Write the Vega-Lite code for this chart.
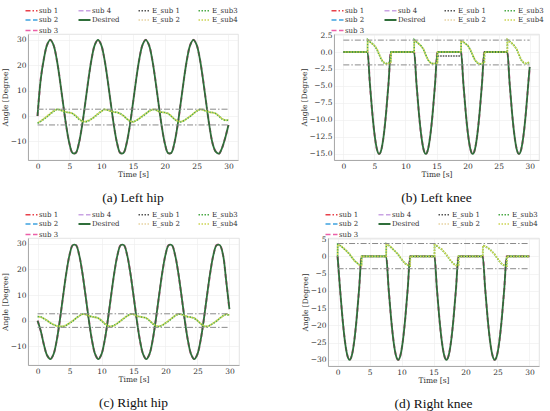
{
  "$schema": "https://vega.github.io/schema/vega-lite/v6.json",
  "background": "white",
  "padding": {"left": 0, "top": 6, "right": 2, "bottom": 0},
  "config": {
    "view": {"stroke": "#dcdcdc", "strokeWidth": 0.8},
    "axis": {
      "labelFont": "DejaVu Serif", "titleFont": "DejaVu Serif",
      "labelFontSize": 7.5, "titleFontSize": 7.5, "titleFontWeight": "normal",
      "labelColor": "#333", "titleColor": "#333",
      "gridColor": "#ececec", "gridWidth": 0.6,
      "domainColor": "#999", "domainWidth": 0.8,
      "ticks": false, "labelPadding": 2, "titlePadding": 1, "labelOverlap": false
    },
    "legend": {
      "orient": "top", "columns": 4, "gridAlign": "each", "symbolType": "stroke", "symbolSize": 144,
      "columnPadding": 15, "rowPadding": 1.5, "labelOffset": 4, "offset": 0, "padding": 0,
      "labelFont": "DejaVu Serif", "labelFontSize": 7, "labelColor": "#333", "symbolStrokeWidth": 1.4
    },
    "title": {"font": "Liberation Serif", "fontSize": 13.5, "fontWeight": "normal", "color": "#111", "orient": "bottom", "anchor": "middle", "offset": 13}
  },
  "spacing": 5,
  "vconcat": [
    {
      "spacing": 60,
      "hconcat": [
        {
          "width": 210, "height": 126,
          "title": {"text": "(a) Left hip"},
          "data": {"values": [
            {"t": 0, "Desired": 0, "E_sub3": -2.8, "E_sub4": -2.6},
            {"t": 0.5, "Desired": 14.45, "E_sub3": -2.1, "E_sub4": -2.0},
            {"t": 1, "Desired": 22.56, "E_sub3": -1.2, "E_sub4": -1.0},
            {"t": 1.5, "Desired": 28.05, "E_sub3": -0.2, "E_sub4": 0.0},
            {"t": 2, "Desired": 30, "E_sub3": 0.8, "E_sub4": 1.0},
            {"t": 2.5, "Desired": 28.05, "E_sub3": 1.8, "E_sub4": 2.0},
            {"t": 3, "Desired": 22.56, "E_sub3": 2.6, "E_sub4": 2.7},
            {"t": 3.5, "Desired": 14.45, "E_sub3": 2.5, "E_sub4": 2.4},
            {"t": 4, "Desired": 5.15, "E_sub3": 1.9, "E_sub4": 2.0},
            {"t": 4.5, "Desired": -3.75, "E_sub3": 1.5, "E_sub4": 1.6},
            {"t": 5, "Desired": -10.7, "E_sub3": 1.4, "E_sub4": 1.3},
            {"t": 5.5, "Desired": -14.51, "E_sub3": 1.0, "E_sub4": 1.1},
            {"t": 6, "Desired": -14.51, "E_sub3": 0.0, "E_sub4": 0.2},
            {"t": 6.5, "Desired": -10.7, "E_sub3": -1.2, "E_sub4": -1.0},
            {"t": 7, "Desired": -3.75, "E_sub3": -2.1, "E_sub4": -2.0},
            {"t": 7.5, "Desired": 5.15, "E_sub3": -2.3, "E_sub4": -2.2},
            {"t": 8, "Desired": 14.45, "E_sub3": -1.9, "E_sub4": -1.7},
            {"t": 8.5, "Desired": 22.56, "E_sub3": -1.1, "E_sub4": -1.2},
            {"t": 9, "Desired": 28.05, "E_sub3": -0.3, "E_sub4": -0.1},
            {"t": 9.5, "Desired": 30, "E_sub3": 0.8, "E_sub4": 1.0},
            {"t": 10, "Desired": 28.05, "E_sub3": 1.9, "E_sub4": 1.8},
            {"t": 10.5, "Desired": 22.56, "E_sub3": 2.6, "E_sub4": 2.7},
            {"t": 11, "Desired": 14.45, "E_sub3": 2.4, "E_sub4": 2.3},
            {"t": 11.5, "Desired": 5.15, "E_sub3": 1.9, "E_sub4": 2.0},
            {"t": 12, "Desired": -3.75, "E_sub3": 1.6, "E_sub4": 1.5},
            {"t": 12.5, "Desired": -10.7, "E_sub3": 1.4, "E_sub4": 1.5},
            {"t": 13, "Desired": -14.51, "E_sub3": 1.0, "E_sub4": 0.9},
            {"t": 13.5, "Desired": -14.51, "E_sub3": 0.1, "E_sub4": 0.2},
            {"t": 14, "Desired": -10.7, "E_sub3": -1.1, "E_sub4": -1.0},
            {"t": 14.5, "Desired": -3.75, "E_sub3": -2.0, "E_sub4": -1.9},
            {"t": 15, "Desired": 5.15, "E_sub3": -2.3, "E_sub4": -2.4},
            {"t": 15.5, "Desired": 14.45, "E_sub3": -1.8, "E_sub4": -1.7},
            {"t": 16, "Desired": 22.56, "E_sub3": -1.0, "E_sub4": -0.9},
            {"t": 16.5, "Desired": 28.05, "E_sub3": -0.1, "E_sub4": 0.1},
            {"t": 17, "Desired": 30, "E_sub3": 0.9, "E_sub4": 1.0},
            {"t": 17.5, "Desired": 28.05, "E_sub3": 1.9, "E_sub4": 1.8},
            {"t": 18, "Desired": 22.56, "E_sub3": 2.6, "E_sub4": 2.5},
            {"t": 18.5, "Desired": 14.45, "E_sub3": 2.5, "E_sub4": 2.6},
            {"t": 19, "Desired": 5.15, "E_sub3": 1.9, "E_sub4": 1.8},
            {"t": 19.5, "Desired": -3.75, "E_sub3": 1.5, "E_sub4": 1.6},
            {"t": 20, "Desired": -10.7, "E_sub3": 1.4, "E_sub4": 1.3},
            {"t": 20.5, "Desired": -14.51, "E_sub3": 1.0, "E_sub4": 1.1},
            {"t": 21, "Desired": -14.51, "E_sub3": 0.0, "E_sub4": 0.1},
            {"t": 21.5, "Desired": -10.7, "E_sub3": -1.2, "E_sub4": -1.1},
            {"t": 22, "Desired": -3.75, "E_sub3": -2.1, "E_sub4": -2.0},
            {"t": 22.5, "Desired": 5.15, "E_sub3": -2.3, "E_sub4": -2.2},
            {"t": 23, "Desired": 14.45, "E_sub3": -1.8, "E_sub4": -1.9},
            {"t": 23.5, "Desired": 22.56, "E_sub3": -1.0, "E_sub4": -0.9},
            {"t": 24, "Desired": 28.05, "E_sub3": -0.1, "E_sub4": 0.0},
            {"t": 24.5, "Desired": 30, "E_sub3": 0.9, "E_sub4": 1.0},
            {"t": 25, "Desired": 28.05, "E_sub3": 1.9, "E_sub4": 2.0},
            {"t": 25.5, "Desired": 22.56, "E_sub3": 2.6, "E_sub4": 2.7},
            {"t": 26, "Desired": 14.45, "E_sub3": 2.5, "E_sub4": 2.4},
            {"t": 26.5, "Desired": 5.15, "E_sub3": 1.9, "E_sub4": 2.0},
            {"t": 27, "Desired": -3.75, "E_sub3": 1.5, "E_sub4": 1.6},
            {"t": 27.5, "Desired": -10.7, "E_sub3": 1.4, "E_sub4": 1.3},
            {"t": 28, "Desired": -14.0, "E_sub3": 1.0, "E_sub4": 1.1},
            {"t": 28.5, "Desired": -14.8, "E_sub3": 0.0, "E_sub4": 0.1},
            {"t": 29, "Desired": -12.5, "E_sub3": -1.2, "E_sub4": -1.1},
            {"t": 29.5, "Desired": -8.5, "E_sub3": -1.7, "E_sub4": -1.6},
            {"t": 30, "Desired": -3.5, "E_sub3": -1.6, "E_sub4": -1.5}
          ]},
          "encoding": {"x": {"field": "t", "type": "quantitative", "title": "Time [s]", "scale": {"domain": [-1.5, 31.5], "nice": false, "zero": false}, "axis": {"values": [0, 5, 10, 15, 20, 25, 30]}}},
          "layer": [
            {
              "mark": {"type": "line", "interpolate": "catmull-rom", "strokeWidth": 2.1, "strokeDash": [4, 3]},
              "encoding": {
                "y": {"field": "Desired", "type": "quantitative", "title": "Angle [Degree]", "scale": {"domain": [-17.3, 32.3], "nice": false, "zero": false}, "axis": {"values": [-10, 0, 10, 20, 30]}},
                "color": {
                  "datum": "sub 3",
                  "scale": {"domain": ["sub 1", "sub 4", "E_sub 1", "E_sub3", "sub 2", "Desired", "E_sub 2", "E_sub4", "sub 3"], "range": ["#e8404a", "#c9a3e3", "#555555", "#4caa48", "#3fa3e0", "#2f6e3a", "#e6d3a3", "#ccd452", "#ec5fa8"]},
                  "legend": {"title": null,
                    "encode": {"symbols": {"update": {"strokeDash": {"signal": "datum.value === 'Desired' ? [1, 0] : datum.value === 'sub 1' ? [5, 2, 1.5, 2] : indexof(datum.value, 'E_') === 0 ? [1.5, 1.5] : [5, 2.5]"}, "strokeWidth": {"signal": "datum.value === 'Desired' ? 2 : 1.4"}}}}}
                }
              }
            },
            {
              "mark": {"type": "line", "interpolate": "catmull-rom", "strokeWidth": 1.8},
              "encoding": {"y": {"field": "Desired", "type": "quantitative", "title": "Angle [Degree]", "axis": {"values": [-10, 0, 10, 20, 30]}}, "color": {"datum": "Desired"}}
            },
            {
              "mark": {"type": "line", "strokeWidth": 1.7, "strokeDash": [1.6, 1.2]},
              "encoding": {"y": {"field": "E_sub3", "type": "quantitative", "title": "Angle [Degree]", "axis": {"values": [-10, 0, 10, 20, 30]}}, "color": {"datum": "E_sub3"}}
            },
            {
              "mark": {"type": "line", "strokeWidth": 1.7, "strokeDash": [1.6, 1.2], "strokeDashOffset": 1.4},
              "encoding": {"y": {"field": "E_sub4", "type": "quantitative", "title": "Angle [Degree]", "axis": {"values": [-10, 0, 10, 20, 30]}}, "color": {"datum": "E_sub4"}}
            },
            {
              "data": {"values": [{"b": 2.7, "x0": 0, "x1": 30}, {"b": -3.5, "x0": 0, "x1": 30}]},
              "mark": {"type": "rule", "color": "#8a8a8a", "strokeWidth": 1, "strokeDash": [6, 2, 1.5, 2]},
              "encoding": {"x": {"field": "x0", "type": "quantitative"}, "x2": {"field": "x1"}, "y": {"field": "b", "type": "quantitative", "title": "Angle [Degree]", "axis": {"values": [-10, 0, 10, 20, 30]}}}
            }
          ]
        },
        {
          "width": 205, "height": 126,
          "title": {"text": "(b) Left knee"},
          "data": {"values": [
            {"t": 0, "Desired": 0, "E_sub3": 0, "E_sub4": 0},
            {"t": 3.9, "Desired": 0, "E_sub3": 0, "E_sub4": 0},
            {"t": 3.92, "E_sub3": 1.8, "E_sub4": 1.75},
            {"t": 4.275, "Desired": -4.64, "E_sub3": 1.5, "E_sub4": 1.55},
            {"t": 4.65, "Desired": -8.82, "E_sub3": 1.25, "E_sub4": 1.2},
            {"t": 5.025, "Desired": -12.14, "E_sub3": 0.9, "E_sub4": 0.95},
            {"t": 5.4, "Desired": -14.27, "E_sub3": 0.4, "E_sub4": 0.5},
            {"t": 5.775, "Desired": -15, "E_sub3": -0.4, "E_sub4": -0.3},
            {"t": 6.15, "Desired": -14.27, "E_sub3": -1.2, "E_sub4": -1.1},
            {"t": 6.525, "Desired": -12.14, "E_sub3": -1.6, "E_sub4": -1.5},
            {"t": 6.9, "Desired": -8.82, "E_sub3": -1.7, "E_sub4": -1.75},
            {"t": 7.275, "Desired": -4.64, "E_sub3": -1.6, "E_sub4": -1.7},
            {"t": 7.65, "Desired": 0, "E_sub3": -1.5, "E_sub4": -1.55},
            {"t": 7.67, "E_sub3": 0, "E_sub4": 0},
            {"t": 11.4, "Desired": 0, "E_sub3": 0, "E_sub4": 0},
            {"t": 11.42, "E_sub3": 1.8, "E_sub4": 1.8},
            {"t": 11.775, "Desired": -4.64, "E_sub3": 1.5, "E_sub4": 1.45},
            {"t": 12.15, "Desired": -8.82, "E_sub3": 1.2, "E_sub4": 1.25},
            {"t": 12.525, "Desired": -12.14, "E_sub3": 0.9, "E_sub4": 0.85},
            {"t": 12.9, "Desired": -14.27, "E_sub3": 0.4, "E_sub4": 0.45},
            {"t": 13.275, "Desired": -15, "E_sub3": -0.4, "E_sub4": -0.5},
            {"t": 13.65, "Desired": -14.27, "E_sub3": -1.2, "E_sub4": -1.15},
            {"t": 14.025, "Desired": -12.14, "E_sub3": -1.6, "E_sub4": -1.6},
            {"t": 14.4, "Desired": -8.82, "E_sub3": -1.7, "E_sub4": -1.75},
            {"t": 14.775, "Desired": -4.64, "E_sub3": -1.7, "E_sub4": -1.65},
            {"t": 15.15, "Desired": 0, "E_sub3": -1.6, "E_sub4": -1.6},
            {"t": 15.17, "E_sub3": 0, "E_sub4": 0, "E_sub1": -0.6},
            {"t": 18.95, "Desired": 0, "E_sub3": 0, "E_sub4": 0, "E_sub1": -0.6},
            {"t": 18.97, "E_sub3": 1.6, "E_sub4": 1.55},
            {"t": 19.325, "Desired": -4.64, "E_sub3": 1.45, "E_sub4": 1.5},
            {"t": 19.7, "Desired": -8.82, "E_sub3": 1.2, "E_sub4": 1.15},
            {"t": 20.075, "Desired": -12.14, "E_sub3": 0.9, "E_sub4": 0.95},
            {"t": 20.45, "Desired": -14.27, "E_sub3": 0.3, "E_sub4": 0.35},
            {"t": 20.825, "Desired": -15, "E_sub3": -0.5, "E_sub4": -0.4},
            {"t": 21.2, "Desired": -14.27, "E_sub3": -1.2, "E_sub4": -1.2},
            {"t": 21.575, "Desired": -12.14, "E_sub3": -1.6, "E_sub4": -1.55},
            {"t": 21.95, "Desired": -8.82, "E_sub3": -1.8, "E_sub4": -1.75},
            {"t": 22.325, "Desired": -4.64, "E_sub3": -1.7, "E_sub4": -1.7},
            {"t": 22.7, "Desired": 0, "E_sub3": -1.6, "E_sub4": -1.5},
            {"t": 22.72, "E_sub3": 0, "E_sub4": 0},
            {"t": 26.4, "Desired": 0, "E_sub3": 0, "E_sub4": 0},
            {"t": 26.42, "E_sub3": 1.8, "E_sub4": 1.8},
            {"t": 26.775, "Desired": -4.64, "E_sub3": 1.55, "E_sub4": 1.5},
            {"t": 27.15, "Desired": -8.82, "E_sub3": 1.25, "E_sub4": 1.3},
            {"t": 27.525, "Desired": -12.14, "E_sub3": 0.9, "E_sub4": 0.9},
            {"t": 27.9, "Desired": -14.27, "E_sub3": 0.4, "E_sub4": 0.45},
            {"t": 28.275, "Desired": -15, "E_sub3": -0.4, "E_sub4": -0.35},
            {"t": 28.65, "Desired": -14.27, "E_sub3": -1.2, "E_sub4": -1.15},
            {"t": 29.025, "Desired": -12.14, "E_sub3": -1.6, "E_sub4": -1.55},
            {"t": 29.4, "Desired": -8.82, "E_sub3": -1.7, "E_sub4": -1.7},
            {"t": 29.775, "Desired": -4.64, "E_sub3": -1.6, "E_sub4": -1.55},
            {"t": 30, "Desired": -2.2, "E_sub3": -1.5, "E_sub4": -1.5}
          ]},
          "encoding": {"x": {"field": "t", "type": "quantitative", "title": "Time [s]", "scale": {"domain": [-1.5, 31.5], "nice": false, "zero": false}, "axis": {"values": [0, 5, 10, 15, 20, 25, 30]}}},
          "layer": [
            {
              "transform": [{"filter": "isValid(datum.Desired)"}],
              "mark": {"type": "line", "interpolate": "monotone", "strokeWidth": 2.1, "strokeDash": [4, 3]},
              "encoding": {
                "y": {"field": "Desired", "type": "quantitative", "title": "Angle [Degree]", "scale": {"domain": [-15.9, 2.65], "nice": false, "zero": false}, "axis": {"values": [-15, -12.5, -10, -7.5, -5, -2.5, 0, 2.5], "format": ".1f"}},
                "color": {
                  "datum": "sub 3",
                  "scale": {"domain": ["sub 1", "sub 4", "E_sub 1", "E_sub3", "sub 2", "Desired", "E_sub 2", "E_sub4", "sub 3"], "range": ["#e8404a", "#c9a3e3", "#555555", "#4caa48", "#3fa3e0", "#2f6e3a", "#e6d3a3", "#ccd452", "#ec5fa8"]},
                  "legend": {"title": null,
                    "encode": {"symbols": {"update": {"strokeDash": {"signal": "datum.value === 'Desired' ? [1, 0] : datum.value === 'sub 1' ? [5, 2, 1.5, 2] : indexof(datum.value, 'E_') === 0 ? [1.5, 1.5] : [5, 2.5]"}, "strokeWidth": {"signal": "datum.value === 'Desired' ? 2 : 1.4"}}}}}
                }
              }
            },
            {
              "transform": [{"filter": "isValid(datum.Desired)"}],
              "mark": {"type": "line", "interpolate": "monotone", "strokeWidth": 1.8},
              "encoding": {"y": {"field": "Desired", "type": "quantitative", "title": "Angle [Degree]", "axis": {"values": [-15, -12.5, -10, -7.5, -5, -2.5, 0, 2.5], "format": ".1f"}}, "color": {"datum": "Desired"}}
            },
            {
              "transform": [{"filter": "isValid(datum.E_sub1)"}],
              "mark": {"type": "line", "strokeWidth": 1.5, "strokeDash": [1.6, 1]},
              "encoding": {"y": {"field": "E_sub1", "type": "quantitative", "title": "Angle [Degree]", "axis": {"values": [-15, -12.5, -10, -7.5, -5, -2.5, 0, 2.5], "format": ".1f"}}, "color": {"datum": "E_sub 1"}}
            },
            {
              "mark": {"type": "line", "strokeWidth": 1.7, "strokeDash": [1.6, 1.2]},
              "encoding": {"y": {"field": "E_sub3", "type": "quantitative", "title": "Angle [Degree]", "axis": {"values": [-15, -12.5, -10, -7.5, -5, -2.5, 0, 2.5], "format": ".1f"}}, "color": {"datum": "E_sub3"}}
            },
            {
              "mark": {"type": "line", "strokeWidth": 1.7, "strokeDash": [1.6, 1.2], "strokeDashOffset": 1.4},
              "encoding": {"y": {"field": "E_sub4", "type": "quantitative", "title": "Angle [Degree]", "axis": {"values": [-15, -12.5, -10, -7.5, -5, -2.5, 0, 2.5], "format": ".1f"}}, "color": {"datum": "E_sub4"}}
            },
            {
              "data": {"values": [{"b": 1.75, "x0": 0, "x1": 30}, {"b": -1.9, "x0": 0, "x1": 30}]},
              "mark": {"type": "rule", "color": "#8a8a8a", "strokeWidth": 1, "strokeDash": [6, 2, 1.5, 2]},
              "encoding": {"x": {"field": "x0", "type": "quantitative"}, "x2": {"field": "x1"}, "y": {"field": "b", "type": "quantitative", "title": "Angle [Degree]", "axis": {"values": [-15, -12.5, -10, -7.5, -5, -2.5, 0, 2.5], "format": ".1f"}}}
            }
          ]
        }
      ],
      "resolve": {"legend": {"color": "independent"}}
    },
    {
      "spacing": 60,
      "hconcat": [
        {
          "width": 211, "height": 127,
          "title": {"text": "(c) Right hip"},
          "data": {"values": [
            {"t": 0, "Desired": 0, "E_sub3": 1.6, "E_sub4": 1.7},
            {"t": 0.5, "Desired": -4.0, "E_sub3": 1.5, "E_sub4": 1.4},
            {"t": 1, "Desired": -9.5, "E_sub3": 0.8, "E_sub4": 0.9},
            {"t": 1.5, "Desired": -13.6, "E_sub3": 0.0, "E_sub4": 0.1},
            {"t": 2, "Desired": -15, "E_sub3": -0.9, "E_sub4": -0.8},
            {"t": 2.5, "Desired": -13.05, "E_sub3": -1.6, "E_sub4": -1.5},
            {"t": 3, "Desired": -7.56, "E_sub3": -2.0, "E_sub4": -2.1},
            {"t": 3.5, "Desired": 0.55, "E_sub3": -2.2, "E_sub4": -2.1},
            {"t": 4, "Desired": 9.85, "E_sub3": -2.3, "E_sub4": -2.2},
            {"t": 4.5, "Desired": 18.75, "E_sub3": -1.8, "E_sub4": -1.7},
            {"t": 5, "Desired": 25.7, "E_sub3": -1.0, "E_sub4": -0.9},
            {"t": 5.5, "Desired": 29.51, "E_sub3": -0.1, "E_sub4": 0.0},
            {"t": 6, "Desired": 29.51, "E_sub3": 0.9, "E_sub4": 1.0},
            {"t": 6.5, "Desired": 25.7, "E_sub3": 1.9, "E_sub4": 1.8},
            {"t": 7, "Desired": 18.75, "E_sub3": 2.6, "E_sub4": 2.7},
            {"t": 7.5, "Desired": 9.85, "E_sub3": 2.5, "E_sub4": 2.4},
            {"t": 8, "Desired": 0.55, "E_sub3": 1.9, "E_sub4": 2.0},
            {"t": 8.5, "Desired": -7.56, "E_sub3": 1.5, "E_sub4": 1.6},
            {"t": 9, "Desired": -13.05, "E_sub3": 1.4, "E_sub4": 1.3},
            {"t": 9.5, "Desired": -15, "E_sub3": 1.0, "E_sub4": 1.1},
            {"t": 10, "Desired": -13.05, "E_sub3": 0.0, "E_sub4": 0.1},
            {"t": 10.5, "Desired": -7.56, "E_sub3": -1.2, "E_sub4": -1.1},
            {"t": 11, "Desired": 0.55, "E_sub3": -2.1, "E_sub4": -2.0},
            {"t": 11.5, "Desired": 9.85, "E_sub3": -2.3, "E_sub4": -2.2},
            {"t": 12, "Desired": 18.75, "E_sub3": -1.8, "E_sub4": -1.9},
            {"t": 12.5, "Desired": 25.7, "E_sub3": -1.0, "E_sub4": -0.9},
            {"t": 13, "Desired": 29.51, "E_sub3": -0.1, "E_sub4": 0.0},
            {"t": 13.5, "Desired": 29.51, "E_sub3": 0.9, "E_sub4": 1.0},
            {"t": 14, "Desired": 25.7, "E_sub3": 1.9, "E_sub4": 1.8},
            {"t": 14.5, "Desired": 18.75, "E_sub3": 2.6, "E_sub4": 2.5},
            {"t": 15, "Desired": 9.85, "E_sub3": 2.5, "E_sub4": 2.6},
            {"t": 15.5, "Desired": 0.55, "E_sub3": 1.9, "E_sub4": 1.8},
            {"t": 16, "Desired": -7.56, "E_sub3": 1.5, "E_sub4": 1.6},
            {"t": 16.5, "Desired": -13.05, "E_sub3": 1.4, "E_sub4": 1.3},
            {"t": 17, "Desired": -15, "E_sub3": 1.0, "E_sub4": 1.1},
            {"t": 17.5, "Desired": -13.05, "E_sub3": 0.0, "E_sub4": 0.1},
            {"t": 18, "Desired": -7.56, "E_sub3": -1.2, "E_sub4": -1.1},
            {"t": 18.5, "Desired": 0.55, "E_sub3": -2.1, "E_sub4": -2.0},
            {"t": 19, "Desired": 9.85, "E_sub3": -2.3, "E_sub4": -2.2},
            {"t": 19.5, "Desired": 18.75, "E_sub3": -1.8, "E_sub4": -1.7},
            {"t": 20, "Desired": 25.7, "E_sub3": -1.0, "E_sub4": -0.9},
            {"t": 20.5, "Desired": 29.51, "E_sub3": -0.1, "E_sub4": 0.1},
            {"t": 21, "Desired": 29.51, "E_sub3": 0.9, "E_sub4": 1.0},
            {"t": 21.5, "Desired": 25.7, "E_sub3": 1.9, "E_sub4": 2.0},
            {"t": 22, "Desired": 18.75, "E_sub3": 2.6, "E_sub4": 2.7},
            {"t": 22.5, "Desired": 9.85, "E_sub3": 2.5, "E_sub4": 2.4},
            {"t": 23, "Desired": 0.55, "E_sub3": 1.9, "E_sub4": 2.0},
            {"t": 23.5, "Desired": -7.56, "E_sub3": 1.5, "E_sub4": 1.6},
            {"t": 24, "Desired": -13.05, "E_sub3": 1.4, "E_sub4": 1.3},
            {"t": 24.5, "Desired": -15, "E_sub3": 1.0, "E_sub4": 1.1},
            {"t": 25, "Desired": -13.05, "E_sub3": 0.0, "E_sub4": 0.1},
            {"t": 25.5, "Desired": -7.56, "E_sub3": -1.2, "E_sub4": -1.1},
            {"t": 26, "Desired": 0.55, "E_sub3": -2.1, "E_sub4": -2.0},
            {"t": 26.5, "Desired": 9.85, "E_sub3": -2.3, "E_sub4": -2.4},
            {"t": 27, "Desired": 18.75, "E_sub3": -1.8, "E_sub4": -1.7},
            {"t": 27.5, "Desired": 25.7, "E_sub3": -1.0, "E_sub4": -0.9},
            {"t": 28, "Desired": 29.51, "E_sub3": -0.1, "E_sub4": 0.0},
            {"t": 28.5, "Desired": 29.51, "E_sub3": 0.9, "E_sub4": 1.0},
            {"t": 29, "Desired": 25.7, "E_sub3": 1.9, "E_sub4": 1.8},
            {"t": 29.5, "Desired": 15.5, "E_sub3": 2.5, "E_sub4": 2.6},
            {"t": 30, "Desired": 4.5, "E_sub3": 2.1, "E_sub4": 2.2}
          ]},
          "encoding": {"x": {"field": "t", "type": "quantitative", "title": "Time [s]", "scale": {"domain": [-1.5, 31.5], "nice": false, "zero": false}, "axis": {"values": [0, 5, 10, 15, 20, 25, 30]}}},
          "layer": [
            {
              "mark": {"type": "line", "interpolate": "catmull-rom", "strokeWidth": 2.1, "strokeDash": [4, 3]},
              "encoding": {
                "y": {"field": "Desired", "type": "quantitative", "title": "Angle [Degree]", "scale": {"domain": [-17.3, 32.3], "nice": false, "zero": false}, "axis": {"values": [-10, 0, 10, 20, 30]}},
                "color": {
                  "datum": "sub 3",
                  "scale": {"domain": ["sub 1", "sub 4", "E_sub 1", "E_sub3", "sub 2", "Desired", "E_sub 2", "E_sub4", "sub 3"], "range": ["#e8404a", "#c9a3e3", "#555555", "#4caa48", "#3fa3e0", "#2f6e3a", "#e6d3a3", "#ccd452", "#ec5fa8"]},
                  "legend": {"title": null,
                    "encode": {"symbols": {"update": {"strokeDash": {"signal": "datum.value === 'Desired' ? [1, 0] : datum.value === 'sub 1' ? [5, 2, 1.5, 2] : indexof(datum.value, 'E_') === 0 ? [1.5, 1.5] : [5, 2.5]"}, "strokeWidth": {"signal": "datum.value === 'Desired' ? 2 : 1.4"}}}}}
                }
              }
            },
            {
              "mark": {"type": "line", "interpolate": "catmull-rom", "strokeWidth": 1.8},
              "encoding": {"y": {"field": "Desired", "type": "quantitative", "title": "Angle [Degree]", "axis": {"values": [-10, 0, 10, 20, 30]}}, "color": {"datum": "Desired"}}
            },
            {
              "mark": {"type": "line", "strokeWidth": 1.7, "strokeDash": [1.6, 1.2]},
              "encoding": {"y": {"field": "E_sub3", "type": "quantitative", "title": "Angle [Degree]", "axis": {"values": [-10, 0, 10, 20, 30]}}, "color": {"datum": "E_sub3"}}
            },
            {
              "mark": {"type": "line", "strokeWidth": 1.7, "strokeDash": [1.6, 1.2], "strokeDashOffset": 1.4},
              "encoding": {"y": {"field": "E_sub4", "type": "quantitative", "title": "Angle [Degree]", "axis": {"values": [-10, 0, 10, 20, 30]}}, "color": {"datum": "E_sub4"}}
            },
            {
              "data": {"values": [{"b": 2.7, "x0": 0, "x1": 30}, {"b": -2.6, "x0": 0, "x1": 30}]},
              "mark": {"type": "rule", "color": "#8a8a8a", "strokeWidth": 1, "strokeDash": [6, 2, 1.5, 2]},
              "encoding": {"x": {"field": "x0", "type": "quantitative"}, "x2": {"field": "x1"}, "y": {"field": "b", "type": "quantitative", "title": "Angle [Degree]", "axis": {"values": [-10, 0, 10, 20, 30]}}}
            }
          ]
        },
        {
          "width": 211, "height": 128,
          "title": {"text": "(d) Right knee"},
          "data": {"values": [
            {"t": 0, "Desired": 0, "E_sub3": 0, "E_sub4": 0},
            {"t": 0.02, "E_sub3": 3.5, "E_sub4": 3.4},
            {"t": 0.375, "Desired": -9.27, "E_sub3": 3.1, "E_sub4": 3.2},
            {"t": 0.75, "Desired": -17.63, "E_sub3": 2.6, "E_sub4": 2.7},
            {"t": 1.125, "Desired": -24.27, "E_sub3": 2.0, "E_sub4": 2.1},
            {"t": 1.5, "Desired": -28.53, "E_sub3": 1.4, "E_sub4": 1.3},
            {"t": 1.875, "Desired": -30, "E_sub3": 0.6, "E_sub4": 0.7},
            {"t": 2.25, "Desired": -28.53, "E_sub3": -0.4, "E_sub4": -0.3},
            {"t": 2.625, "Desired": -24.27, "E_sub3": -1.2, "E_sub4": -1.3},
            {"t": 3.0, "Desired": -17.63, "E_sub3": -1.9, "E_sub4": -1.8},
            {"t": 3.375, "Desired": -9.27, "E_sub3": -2.4, "E_sub4": -2.5},
            {"t": 3.75, "Desired": 0, "E_sub3": -2.6, "E_sub4": -2.6},
            {"t": 3.77, "E_sub3": 0, "E_sub4": 0},
            {"t": 7.6, "Desired": 0, "E_sub3": 0, "E_sub4": 0},
            {"t": 7.62, "E_sub3": 3.6, "E_sub4": 3.5},
            {"t": 7.975, "Desired": -9.27, "E_sub3": 3.2, "E_sub4": 3.1},
            {"t": 8.35, "Desired": -17.63, "E_sub3": 2.6, "E_sub4": 2.7},
            {"t": 8.725, "Desired": -24.27, "E_sub3": 1.9, "E_sub4": 2.0},
            {"t": 9.1, "Desired": -28.53, "E_sub3": 1.3, "E_sub4": 1.2},
            {"t": 9.475, "Desired": -30, "E_sub3": 0.5, "E_sub4": 0.6},
            {"t": 9.85, "Desired": -28.53, "E_sub3": -0.5, "E_sub4": -0.4},
            {"t": 10.225, "Desired": -24.27, "E_sub3": -1.4, "E_sub4": -1.3},
            {"t": 10.6, "Desired": -17.63, "E_sub3": -2.1, "E_sub4": -2.2},
            {"t": 10.975, "Desired": -9.27, "E_sub3": -2.6, "E_sub4": -2.5},
            {"t": 11.35, "Desired": 0, "E_sub3": -2.8, "E_sub4": -2.7},
            {"t": 11.37, "E_sub3": 0, "E_sub4": 0},
            {"t": 15.15, "Desired": 0, "E_sub3": 0, "E_sub4": 0},
            {"t": 15.17, "E_sub3": 3.4, "E_sub4": 3.3},
            {"t": 15.525, "Desired": -9.27, "E_sub3": 3.0, "E_sub4": 3.1},
            {"t": 15.9, "Desired": -17.63, "E_sub3": 2.5, "E_sub4": 2.4},
            {"t": 16.275, "Desired": -24.27, "E_sub3": 2.0, "E_sub4": 2.1},
            {"t": 16.65, "Desired": -28.53, "E_sub3": 1.2, "E_sub4": 1.3},
            {"t": 17.025, "Desired": -30, "E_sub3": 0.4, "E_sub4": 0.5},
            {"t": 17.4, "Desired": -28.53, "E_sub3": -0.6, "E_sub4": -0.5},
            {"t": 17.775, "Desired": -24.27, "E_sub3": -1.5, "E_sub4": -1.4},
            {"t": 18.15, "Desired": -17.63, "E_sub3": -2.2, "E_sub4": -2.3},
            {"t": 18.525, "Desired": -9.27, "E_sub3": -2.6, "E_sub4": -2.7},
            {"t": 18.9, "Desired": 0, "E_sub3": -2.7, "E_sub4": -2.6},
            {"t": 18.92, "E_sub3": 0, "E_sub4": 0},
            {"t": 22.7, "Desired": 0, "E_sub3": 0, "E_sub4": 0},
            {"t": 22.72, "E_sub3": 3.2, "E_sub4": 3.1},
            {"t": 23.075, "Desired": -9.27, "E_sub3": 2.9, "E_sub4": 3.0},
            {"t": 23.45, "Desired": -17.63, "E_sub3": 2.5, "E_sub4": 2.4},
            {"t": 23.825, "Desired": -24.27, "E_sub3": 2.0, "E_sub4": 2.1},
            {"t": 24.2, "Desired": -28.53, "E_sub3": 1.3, "E_sub4": 1.2},
            {"t": 24.575, "Desired": -30, "E_sub3": 0.5, "E_sub4": 0.6},
            {"t": 24.95, "Desired": -28.53, "E_sub3": -0.5, "E_sub4": -0.4},
            {"t": 25.325, "Desired": -24.27, "E_sub3": -1.5, "E_sub4": -1.4},
            {"t": 25.7, "Desired": -17.63, "E_sub3": -2.3, "E_sub4": -2.2},
            {"t": 26.075, "Desired": -9.27, "E_sub3": -2.7, "E_sub4": -2.6},
            {"t": 26.45, "Desired": 0, "E_sub3": -2.8, "E_sub4": -2.8},
            {"t": 26.47, "E_sub3": 0, "E_sub4": 0},
            {"t": 30, "Desired": 0, "E_sub3": 0, "E_sub4": 0}
          ]},
          "encoding": {"x": {"field": "t", "type": "quantitative", "title": "Time [s]", "scale": {"domain": [-1.5, 31.5], "nice": false, "zero": false}, "axis": {"values": [0, 5, 10, 15, 20, 25, 30]}}},
          "layer": [
            {
              "transform": [{"filter": "isValid(datum.Desired)"}],
              "mark": {"type": "line", "interpolate": "monotone", "strokeWidth": 2.1, "strokeDash": [4, 3]},
              "encoding": {
                "y": {"field": "Desired", "type": "quantitative", "title": "Angle [Degree]", "scale": {"domain": [-31.8, 5.3], "nice": false, "zero": false}, "axis": {"values": [-30, -25, -20, -15, -10, -5, 0, 5]}},
                "color": {
                  "datum": "sub 3",
                  "scale": {"domain": ["sub 1", "sub 4", "E_sub 1", "E_sub3", "sub 2", "Desired", "E_sub 2", "E_sub4", "sub 3"], "range": ["#e8404a", "#c9a3e3", "#555555", "#4caa48", "#3fa3e0", "#2f6e3a", "#e6d3a3", "#ccd452", "#ec5fa8"]},
                  "legend": {"title": null,
                    "encode": {"symbols": {"update": {"strokeDash": {"signal": "datum.value === 'Desired' ? [1, 0] : datum.value === 'sub 1' ? [5, 2, 1.5, 2] : indexof(datum.value, 'E_') === 0 ? [1.5, 1.5] : [5, 2.5]"}, "strokeWidth": {"signal": "datum.value === 'Desired' ? 2 : 1.4"}}}}}
                }
              }
            },
            {
              "transform": [{"filter": "isValid(datum.Desired)"}],
              "mark": {"type": "line", "interpolate": "monotone", "strokeWidth": 1.8},
              "encoding": {"y": {"field": "Desired", "type": "quantitative", "title": "Angle [Degree]", "axis": {"values": [-30, -25, -20, -15, -10, -5, 0, 5]}}, "color": {"datum": "Desired"}}
            },
            {
              "mark": {"type": "line", "strokeWidth": 1.7, "strokeDash": [1.6, 1.2]},
              "encoding": {"y": {"field": "E_sub3", "type": "quantitative", "title": "Angle [Degree]", "axis": {"values": [-30, -25, -20, -15, -10, -5, 0, 5]}}, "color": {"datum": "E_sub3"}}
            },
            {
              "mark": {"type": "line", "strokeWidth": 1.7, "strokeDash": [1.6, 1.2], "strokeDashOffset": 1.4},
              "encoding": {"y": {"field": "E_sub4", "type": "quantitative", "title": "Angle [Degree]", "axis": {"values": [-30, -25, -20, -15, -10, -5, 0, 5]}}, "color": {"datum": "E_sub4"}}
            },
            {
              "data": {"values": [{"b": 3.7, "x0": 0, "x1": 30}, {"b": -3.6, "x0": 0, "x1": 30}]},
              "mark": {"type": "rule", "color": "#8a8a8a", "strokeWidth": 1, "strokeDash": [6, 2, 1.5, 2]},
              "encoding": {"x": {"field": "x0", "type": "quantitative"}, "x2": {"field": "x1"}, "y": {"field": "b", "type": "quantitative", "title": "Angle [Degree]", "axis": {"values": [-30, -25, -20, -15, -10, -5, 0, 5]}}}
            }
          ]
        }
      ],
      "resolve": {"legend": {"color": "independent"}}
    }
  ],
  "resolve": {"legend": {"color": "independent"}}
}
